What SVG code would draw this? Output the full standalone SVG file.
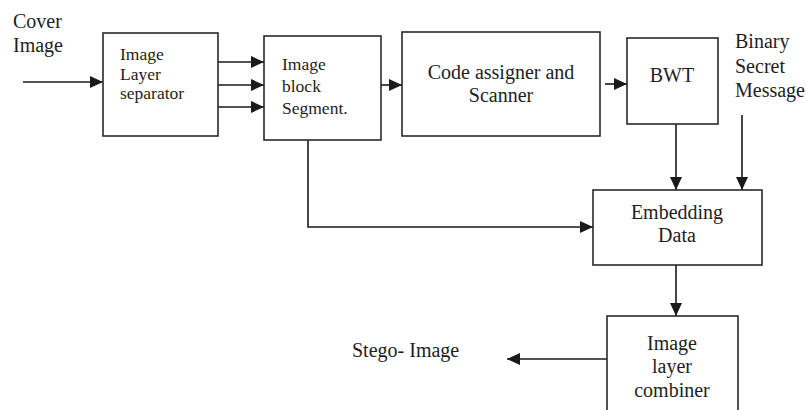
<svg xmlns="http://www.w3.org/2000/svg" width="806" height="410" viewBox="0 0 806 410">
<defs>
<marker id="ah" markerWidth="13" markerHeight="12" refX="13" refY="6" orient="auto" markerUnits="userSpaceOnUse">
<path d="M0,0 L13,6 L0,12 z" fill="#1a1a1a"/>
</marker>
<style>
.box{fill:#fff;stroke:#2a2a2a;stroke-width:1.6}
.ln{fill:none;stroke:#1a1a1a;stroke-width:1.6;marker-end:url(#ah)}
.ln0{fill:none;stroke:#1a1a1a;stroke-width:1.6}
text{font-family:"Liberation Serif","Times New Roman",serif;fill:#1e1e1e;font-size:20px}
.sm{font-size:17.5px}
.c{text-anchor:middle}
</style>
</defs>
<rect width="806" height="410" fill="#fff"/>
<g id="connectors">
<path class="ln" d="M23,82 L103,82"/>
<path class="ln" d="M218,62 L264,62"/>
<path class="ln" d="M218,85 L264,85"/>
<path class="ln" d="M217,107 L264,107"/>
<path class="ln" d="M381,85 L402,85"/>
<path class="ln" d="M605,84 L627,84"/>
<path class="ln" d="M676,124 L676,190"/>
<path class="ln" d="M742,115 L742,190"/>
<path class="ln" d="M308,140 L308,227 L593,227"/>
<path class="ln" d="M676,265 L676,316"/>
<path class="ln" d="M607,359 L507,359"/>
</g>
<g id="cover-image">
<text x="13" y="28">Cover</text>
<text x="13" y="52">Image</text>
</g>
<g id="layer-separator">
<rect class="box" x="103" y="33" width="115" height="103"/>
<text class="sm" x="120" y="60">Image</text>
<text class="sm" x="120" y="80">Layer</text>
<text class="sm" x="120" y="99">separator</text>
</g>
<g id="block-segment">
<rect class="box" x="264" y="36" width="117" height="104"/>
<text class="sm" x="282" y="70">Image</text>
<text class="sm" x="282" y="92">block</text>
<text class="sm" x="282" y="114">Segment.</text>
</g>
<g id="code-assigner">
<rect class="box" x="402" y="32" width="198" height="104"/>
<text class="c" x="501" y="79">Code assigner and</text>
<text class="c" x="501" y="102">Scanner</text>
</g>
<g id="bwt">
<rect class="box" x="627" y="38" width="91" height="86"/>
<text class="c" x="672" y="82">BWT</text>
</g>
<g id="binary-secret-message">
<text x="735" y="48">Binary</text>
<text x="735" y="73">Secret</text>
<text x="735" y="97">Message</text>
</g>
<g id="embedding-data">
<rect class="box" x="593" y="190" width="169" height="75"/>
<text class="c" x="677" y="219">Embedding</text>
<text class="c" x="677" y="242">Data</text>
</g>
<g id="layer-combiner">
<rect class="box" x="607" y="316" width="131" height="110"/>
<text class="c" x="672" y="350">Image</text>
<text class="c" x="672" y="373">layer</text>
<text class="c" x="672" y="397">combiner</text>
</g>
<g id="stego-image">
<text x="352" y="357">Stego- Image</text>
</g>
</svg>
